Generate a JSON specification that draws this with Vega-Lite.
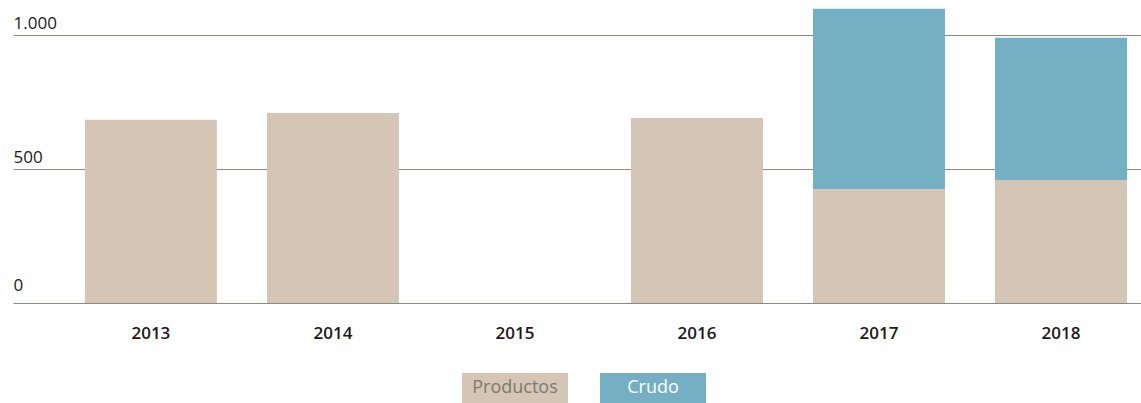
{
  "$schema": "https://vega.github.io/schema/vega-lite/v6.json",
  "width": 1128,
  "height": 303,
  "padding": {"left": 13, "top": 0, "right": 0, "bottom": 0},
  "background": "white",
  "config": {"view": {"stroke": null}, "font": "Open Sans", "legend": {"padding": 0}},
  "data": {
    "values": [
      {"year": "2013", "tipo": "Productos", "value": 683},
      {"year": "2014", "tipo": "Productos", "value": 709},
      {"year": "2015", "tipo": "Productos", "value": 0},
      {"year": "2016", "tipo": "Productos", "value": 690},
      {"year": "2017", "tipo": "Productos", "value": 425},
      {"year": "2018", "tipo": "Productos", "value": 459},
      {"year": "2017", "tipo": "Crudo", "value": 672},
      {"year": "2018", "tipo": "Crudo", "value": 530}
    ]
  },
  "mark": {"type": "bar"},
  "encoding": {
    "x": {
      "field": "year",
      "type": "nominal",
      "scale": {"domain": ["2013", "2014", "2015", "2016", "2017", "2018"], "paddingInner": 0.275, "paddingOuter": 0.236, "align": 0.837},
      "axis": {"title": null, "labelAngle": 0, "ticks": false, "domain": false, "labelPadding": 22, "labelFontSize": 17, "labelFontWeight": 600, "labelColor": "#1a1a1a"}
    },
    "y": {
      "field": "value",
      "type": "quantitative",
      "stack": "zero",
      "scale": {"domain": [0, 1130], "nice": false},
      "axis": {
        "title": null,
        "values": [0, 500, 1000],
        "labelExpr": "replace(format(datum.value, ','), ',', '.')",
        "ticks": false,
        "domain": false,
        "labelAlign": "left",
        "labelBaseline": "alphabetic",
        "labelPadding": 0,
        "labelOffset": {"condition": {"test": "datum.value == 0", "value": -13}, "value": -6},
        "labelFontSize": 17,
        "labelColor": "#1a1a1a",
        "gridColor": "#8a8a80",
        "gridWidth": 1,
        "gridOpacity": 1
      }
    },
    "color": {
      "field": "tipo",
      "type": "nominal",
      "sort": ["Productos", "Crudo"],
      "scale": {"domain": ["Productos", "Crudo"], "range": ["#d5c5b4", "#74afc4"]},
      "legend": {
        "title": null,
        "orient": "none",
        "legendX": 449,
        "legendY": 335,
        "direction": "horizontal",
        "symbolType": "M-1,-0.283H1V0.283H-1Z",
        "symbolSize": 11236,
        "symbolStrokeWidth": 0,
        "symbolOpacity": 1,
        "labelAlign": "center",
        "labelBaseline": "middle",
        "labelOffset": -53,
        "labelFontSize": 18,
        "columnPadding": 32,
        "encode": {
          "labels": {"update": {"fill": {"signal": "datum.value === 'Crudo' ? '#ffffff' : '#7b7b6f'"}}}
        }
      }
    },
    "order": {"field": "tipo", "sort": "descending"}
  }
}
